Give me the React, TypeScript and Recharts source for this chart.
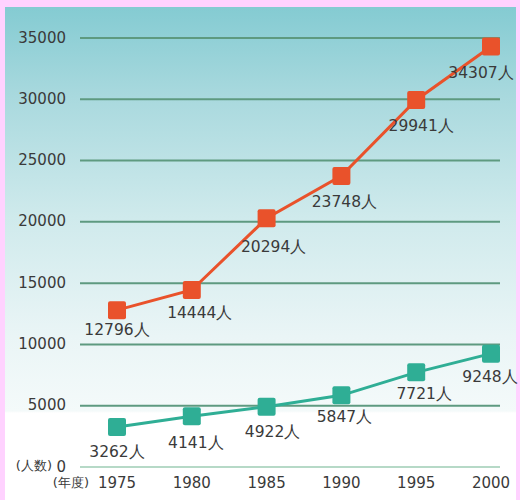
import { LineChart, Line, XAxis, YAxis, CartesianGrid, ReferenceLine, LabelList } from "recharts";

const years = [1975, 1980, 1985, 1990, 1995, 2000];
const upperSeries = [12796, 14444, 20294, 23748, 29941, 34307];
const lowerSeries = [3262, 4141, 4922, 5847, 7721, 9248];
const yTicks = [0, 5000, 10000, 15000, 20000, 25000, 30000, 35000];

// label nudges, per point
const upperDx = [0, 8, 7, 3, 5, -10];
const upperDy = [20, 24, 29, 27, 26, 27];
const lowerDx = [0, 4, 6, 3, 8, -1];
const lowerDy = [25, 27, 26, 22, 22, 24];

const data = years.map((year, i) => ({
  year,
  upper: upperSeries[i],
  lower: lowerSeries[i],
}));

const ORANGE = "#e9522b";
const TEAL = "#2fae95";
const FONT = "'DejaVu Sans', sans-serif";
const INK = "#3a3a3a";

const SquareDot = (color: string) => (props: any) => {
  const { cx, cy, index } = props;
  if (cx == null || cy == null) return null;
  return <rect key={index} x={cx - 9} y={cy - 9} width={18} height={18} rx={2} fill={color} />;
};

const makeLabel = (dx: number[], dy: number[]) => (props: any) => {
  const { x, y, value, index } = props;
  return (
    <text
      x={x + dx[index]}
      y={y + dy[index]}
      textAnchor="middle"
      dominantBaseline="middle"
      fontSize={15.5}
      fontFamily={FONT}
      fill={INK}
    >
      {value}人
    </text>
  );
};

const YTick = (props: any) => {
  const { x, y, payload } = props;
  return (
    <g>
      <text x={x} y={y} textAnchor="end" dominantBaseline="middle" fontSize={15} fontFamily={FONT} fill={INK}>
        {payload.value}
      </text>
      {payload.value === 0 && (
        <text x={x - 14} y={y - 1} textAnchor="end" dominantBaseline="middle" fontSize={13} fontFamily={FONT} fill={INK}>
          (人数)
        </text>
      )}
    </g>
  );
};

const XTick = (props: any) => {
  const { x, y, payload, index } = props;
  return (
    <g>
      <text x={x} y={y + 8} textAnchor="middle" dominantBaseline="middle" fontSize={15} fontFamily={FONT} fill={INK}>
        {payload.value}
      </text>
      {index === 0 && (
        <text x={x - 28} y={y + 8} textAnchor="end" dominantBaseline="middle" fontSize={13} fontFamily={FONT} fill={INK}>
          (年度)
        </text>
      )}
    </g>
  );
};

export default function App() {
  return (
    <div style={{ position: "relative", width: 520, height: 500, background: "#ffd2ff", overflow: "hidden" }}>
      <style>{"body{margin:0}"}</style>
      <div
        style={{
          position: "absolute",
          left: 5,
          top: 7,
          width: 511,
          height: 493,
          background:
            "linear-gradient(to bottom, #84cbd2 0px, #a9d9de 90px, #cfeaec 210px, #eaf5f6 330px, #f4fafa 404px, #ffffff 406px)",
        }}
      />
      <div style={{ position: "absolute", left: 0, top: 0 }}>
        <LineChart width={520} height={500} data={data} margin={{ top: 38, right: 20, bottom: 0, left: 0 }}>
          <CartesianGrid
            vertical={false}
            horizontalValues={[5000, 10000, 15000, 20000, 25000, 30000, 35000]}
            stroke="#5e9a80"
            strokeWidth={2}
          />
          <ReferenceLine y={0} stroke="#b6d9c7" strokeWidth={2} />
          <XAxis
            dataKey="year"
            type="number"
            domain={[1975, 2000]}
            ticks={years}
            padding={{ left: 37, right: 9 }}
            axisLine={false}
            tickLine={false}
            height={33}
            tick={<XTick />}
          />
          <YAxis
            domain={[0, 35000]}
            ticks={yTicks}
            width={80}
            axisLine={false}
            tickLine={false}
            tickMargin={8}
            tick={<YTick />}
          />
          <Line
            dataKey="upper"
            stroke={ORANGE}
            strokeWidth={3}
            dot={SquareDot(ORANGE)}
            activeDot={false}
            isAnimationActive={false}
          >
            <LabelList dataKey="upper" content={makeLabel(upperDx, upperDy)} />
          </Line>
          <Line
            dataKey="lower"
            stroke={TEAL}
            strokeWidth={3}
            dot={SquareDot(TEAL)}
            activeDot={false}
            isAnimationActive={false}
          >
            <LabelList dataKey="lower" content={makeLabel(lowerDx, lowerDy)} />
          </Line>
        </LineChart>
      </div>
    </div>
  );
}
